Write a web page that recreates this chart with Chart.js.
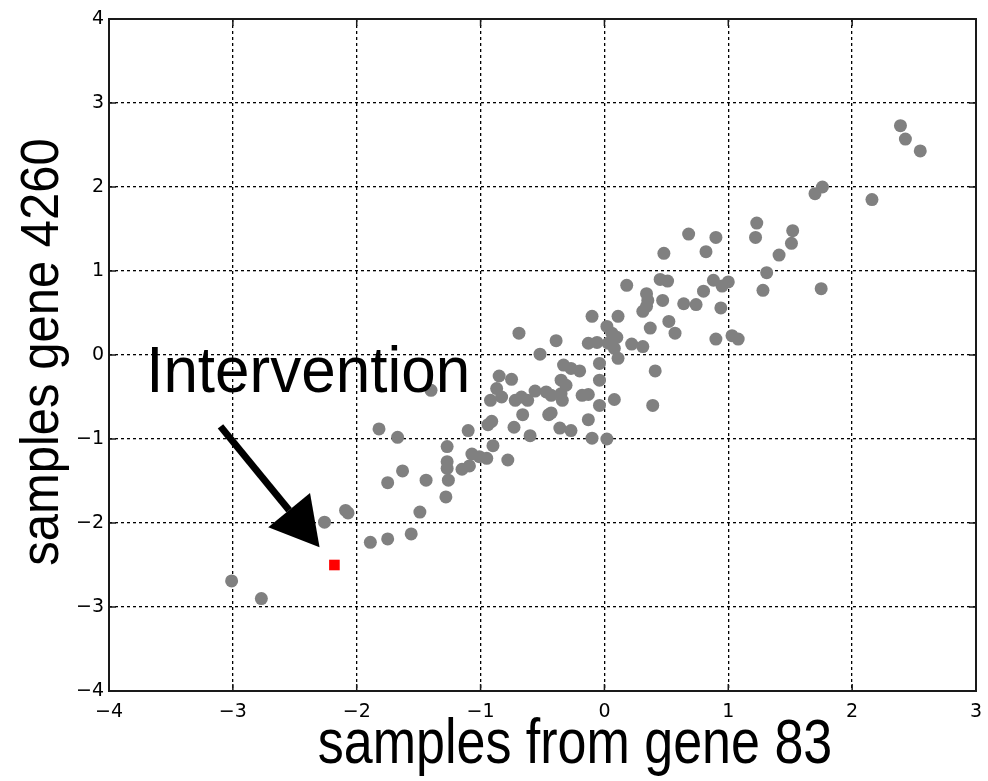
<!DOCTYPE html>
<html>
<head>
<meta charset="utf-8">
<script src="https://cdn.jsdelivr.net/npm/chart.js@4.4.1/dist/chart.umd.min.js"></script>
<style>
  body { margin: 0; background: #fff; }
  canvas { display: block; }
</style>
</head>
<body>
<canvas id="chart" width="988" height="781"></canvas>
<script>
// samples
const geneX = [
  -1.82, -1.67, -1.27, -1.63, -1.75, -1.44, -1.27, -1.27, -1.26, -1.28,
  -2.09, -2.07, -2.26, -1.49, -1.56, -1.75, -1.89, -3.01, -2.77, -1.40,
  -1.10, -0.90, -1.07, -1.01, -0.95, -0.78, -1.09, -1.15, -0.69, -0.39,
  -0.52, -0.85, -0.75, -0.87, -0.92, -0.83, -0.72, -0.67, -0.62, -0.56,
  -0.47, -0.43, -0.35, -0.34, -0.18, -0.13, -0.04, 0.08, -0.66, -0.45,
  -0.91, -0.94, -0.73, -0.36, -0.27, -0.13, -0.60, -0.10, 0.02, -0.33,
  -0.27, -0.20, -0.04, -0.35, -0.31, -0.04, 0.39, 0.41, -0.43, -0.10,
  0.11, -0.13, -0.06, 0.02, 0.06, 0.10, 0.03, 0.08, 0.11, 0.22,
  0.31, 0.18, 0.31, 0.34, 0.35, 0.34, 0.47, 0.37, 0.52, 0.57,
  0.64, 0.74, 0.80, 0.45, 0.51, 0.88, 0.95, 1.00, 0.94, 0.90,
  1.03, 1.08, 0.48, 0.82, 0.68, 0.90, 1.23, 1.22, 1.52, 1.51,
  1.41, 1.31, 1.28, 1.75, 1.76, 1.70, 2.16, 2.39, 2.43, 2.55
];
const geneY = [
  -0.88, -0.98, -1.09, -1.38, -1.52, -1.49, -1.27, -1.35, -1.49, -1.69,
  -1.85, -1.88, -1.99, -1.87, -2.13, -2.19, -2.23, -2.69, -2.90, -0.42,
  -0.90, -1.08, -1.18, -1.21, -1.23, -1.25, -1.32, -1.36, 0.26, 0.17,
  0.01, -0.25, -0.29, -0.40, -0.54, -0.50, -0.54, -0.50, -0.54, -0.43,
  -0.44, -0.48, -0.46, -0.54, -0.48, -0.47, -0.60, -0.53, -0.71, -0.71,
  -0.79, -0.83, -0.86, -0.87, -0.90, -0.77, -0.96, -0.99, -1.00, -0.12,
  -0.16, -0.19, -0.10, -0.30, -0.36, -0.30, -0.60, -0.19, -0.69, 0.46,
  0.46, 0.14, 0.15, 0.34, 0.26, 0.21, 0.14, 0.08, -0.04, 0.13,
  0.10, 0.83, 0.52, 0.58, 0.65, 0.73, 0.65, 0.32, 0.40, 0.26,
  0.61, 0.60, 0.76, 0.90, 0.88, 0.89, 0.82, 0.87, 0.56, 0.19,
  0.23, 0.19, 1.21, 1.23, 1.44, 1.40, 1.57, 1.40, 1.48, 1.33,
  1.19, 0.98, 0.77, 0.79, 2.00, 1.92, 1.85, 2.73, 2.57, 2.43
];
const interventionX = [-2.18];
const interventionY = [-2.50];
const xTicks = [-4, -3, -2, -1, 0, 1, 2, 3];
const yTicks = [-4, -3, -2, -1, 0, 1, 2, 3, 4];

// annotation placement, in data units
const arrowFrom = { x: -3.10, y: -0.85 };
const arrowTip = { x: -2.30, y: -2.29 };
const labelAt = { x: -3.70, y: -0.44 };

const fmt = v => (v < 0 ? '\u2212' + Math.abs(v) : String(v));

// stretched text, the figure's fonts are taller than they are wide
function tallText(ctx, text, x, y, size, stretch, angle) {
  ctx.save();
  ctx.translate(x, y);
  if (angle) ctx.rotate(angle);
  ctx.scale(1, stretch);
  ctx.font = size + 'px "Liberation Sans", Arial, sans-serif';
  ctx.fillText(text, 0, 0);
  ctx.restore();
}

const decorations = {
  id: 'decorations',
  afterDatasetsDraw(chart) {
    const { ctx, chartArea: a, scales: { x, y } } = chart;
    ctx.save();
    // plot box with small inward ticks
    ctx.strokeStyle = '#1a1a1a';
    ctx.lineWidth = 2;
    ctx.strokeRect(a.left, a.top, a.right - a.left, a.bottom - a.top);
    ctx.lineWidth = 1.5;
    ctx.beginPath();
    for (const v of xTicks) {
      const px = x.getPixelForValue(v);
      ctx.moveTo(px, a.bottom); ctx.lineTo(px, a.bottom - 7);
      ctx.moveTo(px, a.top); ctx.lineTo(px, a.top + 7);
    }
    for (const v of yTicks) {
      const py = y.getPixelForValue(v);
      ctx.moveTo(a.left, py); ctx.lineTo(a.left + 7, py);
      ctx.moveTo(a.right, py); ctx.lineTo(a.right - 7, py);
    }
    ctx.stroke();

    // arrow
    const x0 = x.getPixelForValue(arrowFrom.x), y0 = y.getPixelForValue(arrowFrom.y);
    const x1 = x.getPixelForValue(arrowTip.x), y1 = y.getPixelForValue(arrowTip.y);
    const ang = Math.atan2(y1 - y0, x1 - x0);
    const headLen = 48, headHalf = 27;
    const bx = x1 - headLen * Math.cos(ang), by = y1 - headLen * Math.sin(ang);
    ctx.strokeStyle = '#000';
    ctx.lineWidth = 7;
    ctx.beginPath();
    ctx.moveTo(x0, y0);
    ctx.lineTo(bx, by);
    ctx.stroke();
    ctx.fillStyle = '#000';
    ctx.beginPath();
    ctx.moveTo(x1, y1);
    ctx.lineTo(bx + headHalf * Math.sin(ang), by - headHalf * Math.cos(ang));
    ctx.lineTo(bx - headHalf * Math.sin(ang), by + headHalf * Math.cos(ang));
    ctx.closePath();
    ctx.fill();

    // labels
    ctx.textBaseline = 'alphabetic';
    ctx.textAlign = 'left';
    tallText(ctx, 'Intervention', x.getPixelForValue(labelAt.x), y.getPixelForValue(labelAt.y), 62, 1.06);
    ctx.textAlign = 'center';
    tallText(ctx, 'samples from gene 83', 575, 763, 52, 1.2);
    tallText(ctx, 'samples gene 4260', 58, 352, 49, 1.09, -Math.PI / 2);
    ctx.restore();
  }
};

const tickFont = { family: '"DejaVu Sans", sans-serif', size: 19 };

new Chart(document.getElementById('chart'), {
  type: 'scatter',
  data: {
    datasets: [
      {
        data: geneX.map((v, i) => ({ x: v, y: geneY[i] })),
        backgroundColor: '#808080',
        borderWidth: 0,
        pointRadius: 6.5
      },
      {
        data: interventionX.map((v, i) => ({ x: v, y: interventionY[i] })),
        pointStyle: 'rect',
        backgroundColor: '#ff0000',
        borderWidth: 0,
        pointRadius: 7.5
      }
    ]
  },
  options: {
    responsive: false,
    animation: false,
    events: [],
    layout: { padding: { top: 19, right: 12, left: 0, bottom: 0 } },
    plugins: { legend: { display: false }, tooltip: { enabled: false } },
    scales: {
      x: {
        type: 'linear',
        min: xTicks[0],
        max: xTicks[xTicks.length - 1],
        afterBuildTicks: s => { s.ticks = xTicks.map(v => ({ value: v })); },
        afterFit: s => { s.height = 90; s.paddingLeft = 0; s.paddingRight = 0; },
        ticks: { callback: fmt, color: '#000', font: tickFont, padding: 10, maxRotation: 0 },
        grid: { color: '#000', lineWidth: 1.3, drawTicks: false },
        border: { display: false, dash: [3, 3] }
      },
      y: {
        type: 'linear',
        min: yTicks[0],
        max: yTicks[yTicks.length - 1],
        afterBuildTicks: s => { s.ticks = yTicks.map(v => ({ value: v })); },
        afterFit: s => { s.width = 109; s.paddingTop = 0; s.paddingBottom = 0; },
        ticks: { callback: fmt, color: '#000', font: tickFont, padding: 5 },
        grid: { color: '#000', lineWidth: 1.3, drawTicks: false },
        border: { display: false, dash: [3, 3] }
      }
    }
  },
  plugins: [decorations]
});
</script>
</body>
</html>
